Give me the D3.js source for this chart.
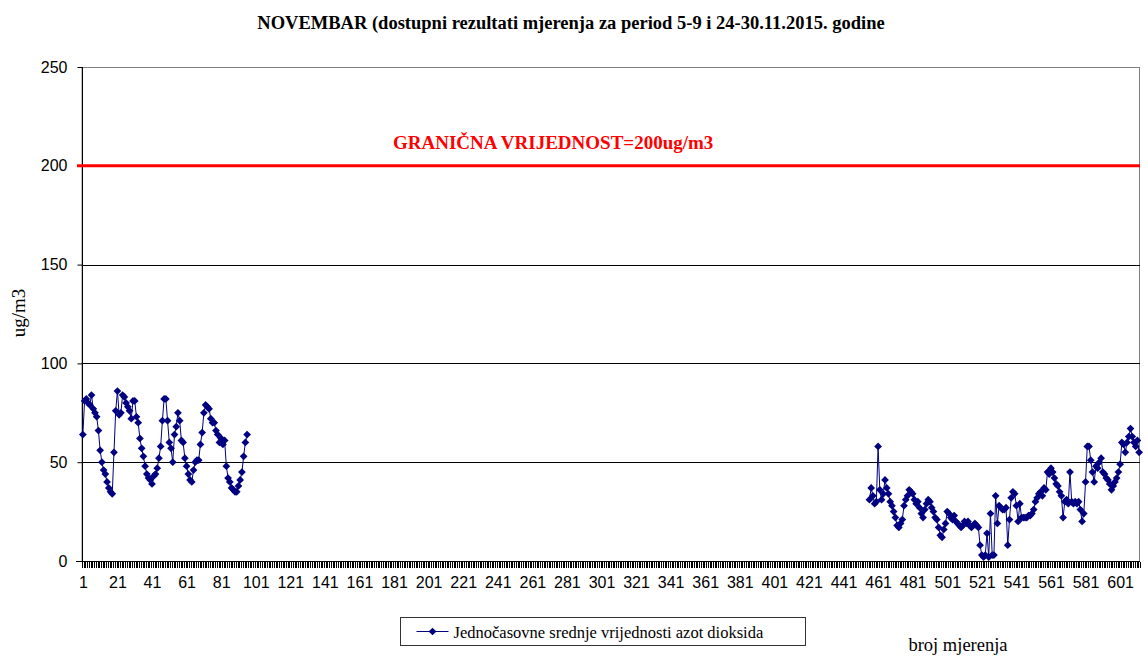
<!DOCTYPE html>
<html>
<head>
<meta charset="utf-8">
<script src="https://cdn.jsdelivr.net/npm/d3@7"></script>
<style>
  body { margin: 0; background: #fff; }
  svg { display: block; }
</style>
</head>
<body>
<svg id="chart"></svg>
<script>
var width = 1148, height = 657;
var margin = { top: 67, right: 8, bottom: 96, left: 82 };
var chart_width = width - margin.left - margin.right;
var chart_height = height - margin.top - margin.bottom;

// number of hourly measurements on the category axis
var categoryCount = 612;
// 5-9.11 block starts at measurement 1, 24-30.11 block at measurement 456
var startFirst = 1;
var startSecond = 456;
var valuesFirst = [
  64, 81, 82, 80, 79, 84, 77, 75, 73, 66,
  56, 50, 46, 44, 40, 37, 35, 34, 55, 76,
  86, 74, 75, 84, 83, 80, 78, 76, 72, 81,
  81, 73, 70, 62, 57, 53, 48, 44, 42, 41,
  39, 43, 44, 47, 52, 58, 71, 82, 82, 71,
  60, 57, 50, 64, 68, 75, 71, 61, 60, 52,
  48, 44, 41, 40, 46, 50, 51, 51, 59, 65,
  75, 79, 78, 77, 72, 70, 70, 66, 64, 60,
  62, 59, 61, 48, 42, 40, 37, 36, 35, 35,
  38, 41, 45, 53, 60, 64
];
var valuesSecond = [
  31, 37, 33, 29, 30, 58, 36, 31, 34, 41,
  37, 34, 30, 28, 25, 22, 18, 17, 19, 21,
  28, 31, 33, 36, 35, 34, 31, 29, 30, 27,
  24, 22, 26, 29, 31, 30, 27, 25, 22, 21,
  17, 13, 12, 16, 19, 25, 24, 22, 21, 23,
  20, 19, 18, 17, 18, 20, 19, 20, 18, 17,
  18, 19, 18, 17, 8, 3, 2, 3, 14, 2,
  24, 3, 3, 33, 19, 28, 27, 26, 26, 27,
  8, 21, 32, 35, 34, 28, 20, 29, 22, 22,
  22, 22, 23, 23, 24, 26, 30, 32, 34, 35,
  33, 37, 36, 45, 44, 47, 45, 42, 39, 38,
  35, 33, 22, 30, 31, 29, 45, 30, 29, 30,
  29, 30, 26, 20, 24, 40, 58, 58, 51, 45,
  40, 48, 47, 50, 52, 45, 44, 42, 41, 39,
  36, 38, 40, 42, 45, 49, 60, 59, 55, 60,
  63, 67, 63, 60, 58, 61, 55
];
var yTicks = [0, 50, 100, 150, 200, 250];
var xTickLabels = d3.range(1, categoryCount + 1, 20);
var limitValue = 200;

var titleText = "NOVEMBAR (dostupni rezultati mjerenja za period 5-9 i 24-30.11.2015. godine";
var limitText = "GRANIČNA VRIJEDNOST=200ug/m3";
var yLabel = "ug/m3";
var xLabel = "broj mjerenja";
var legendText = "Jednočasovne srednje vrijednosti azot dioksida";

// full series with gaps where no measurement exists
var data = d3.range(1, categoryCount + 1).map(function(i) {
  var v = null;
  if (i >= startFirst && i < startFirst + valuesFirst.length) v = valuesFirst[i - startFirst];
  if (i >= startSecond && i < startSecond + valuesSecond.length) v = valuesSecond[i - startSecond];
  return { i: i, v: v };
});

var xScale = d3.scaleLinear().domain([0.5, categoryCount + 0.5]).range([0, chart_width]);
var yScale = d3.scaleLinear().domain([0, 250]).range([chart_height, 0]);

var svg = d3.select("#chart").attr("width", width).attr("height", height);
var serif = "'Liberation Serif', 'Times New Roman', serif";
var sans = "'Liberation Sans', Arial, sans-serif";

svg.append("text")
  .attr("x", 571).attr("y", 29)
  .attr("text-anchor", "middle")
  .style("font-family", serif).style("font-weight", "bold").style("font-size", "18.5px")
  .text(titleText);

var g = svg.append("g").attr("transform", "translate(" + margin.left + "," + margin.top + ")");

// plot area border (top and right are grey)
g.append("rect")
  .attr("x", 0).attr("y", 0.5)
  .attr("width", chart_width - 0.5).attr("height", chart_height)
  .style("fill", "none").style("stroke", "#808080").style("stroke-width", 1);

// horizontal gridlines
g.selectAll(".grid")
  .data(yTicks.filter(function(d) { return d > 0 && d < 250; }))
  .enter().append("line")
  .attr("class", "grid")
  .attr("x1", 0).attr("x2", chart_width)
  .attr("y1", function(d) { return Math.round(yScale(d)) + 0.5; })
  .attr("y2", function(d) { return Math.round(yScale(d)) + 0.5; })
  .style("stroke", "#000").style("stroke-width", 1);

// y axis
var yAxis = d3.axisLeft(yScale).tickValues(yTicks).tickSize(5).tickPadding(10);
var gy = g.append("g").attr("transform", "translate(0.5,0)").call(yAxis);
gy.select(".domain").attr("d", "M0," + chart_height + "V0").style("stroke", "#000");
gy.selectAll(".tick line").style("stroke", "#000");
gy.selectAll(".tick text")
  .style("font-family", sans).style("font-size", "16px").style("fill", "#000");

// x axis: tick marks between every category
var boundaries = d3.range(0, categoryCount + 1).map(function(k) { return k + 0.5; });
var xAxisTicks = d3.axisBottom(xScale).tickValues(boundaries).tickSize(6).tickFormat("");
var gx = g.append("g").attr("transform", "translate(0," + (chart_height + 0.5) + ")").call(xAxisTicks);
gx.select(".domain").attr("d", "M-6,0H" + chart_width).style("stroke", "#000");
gx.selectAll(".tick line")
  .style("stroke", "#000").style("stroke-width", 1)
  .attr("shape-rendering", "crispEdges");

var xAxisLabels = d3.axisBottom(xScale).tickValues(xTickLabels).tickSize(0).tickPadding(16);
var gxl = g.append("g").attr("transform", "translate(0," + chart_height + ")").call(xAxisLabels);
gxl.select(".domain").remove();
gxl.selectAll(".tick text")
  .style("font-family", sans).style("font-size", "16px").style("fill", "#000");

// limit line
g.append("line")
  .attr("x1", -5).attr("x2", chart_width)
  .attr("y1", yScale(limitValue)).attr("y2", yScale(limitValue))
  .style("stroke", "#ff0000").style("stroke-width", 3);

g.append("text")
  .attr("x", 311).attr("y", yScale(limitValue) - 17)
  .style("font-family", serif).style("font-weight", "bold").style("font-size", "19px")
  .style("fill", "#ff0000")
  .text(limitText);

// series line
var line = d3.line()
  .defined(function(d) { return d.v !== null; })
  .x(function(d) { return xScale(d.i); })
  .y(function(d) { return yScale(d.v); });

g.append("path")
  .datum(data)
  .attr("d", line)
  .style("fill", "none").style("stroke", "#000080").style("stroke-width", 1);

var diamond = d3.symbol().type(d3.symbolSquare).size(30);
g.selectAll(".dot")
  .data(data.filter(function(d) { return d.v !== null; }))
  .enter().append("path")
  .attr("class", "dot")
  .attr("d", diamond)
  .attr("transform", function(d) { return "translate(" + xScale(d.i) + "," + yScale(d.v) + ") rotate(45)"; })
  .style("fill", "#000080");

// axis titles
svg.append("text")
  .attr("transform", "translate(25," + (margin.top + chart_height / 2 - 1) + ") rotate(-90)")
  .attr("text-anchor", "middle")
  .style("font-family", serif).style("font-size", "19px")
  .text(yLabel);

svg.append("text")
  .attr("x", 958).attr("y", 651)
  .attr("text-anchor", "middle")
  .style("font-family", serif).style("font-size", "18.5px")
  .text(xLabel);

// legend
var legend = svg.append("g").attr("transform", "translate(400.5,617.5)");
legend.append("rect")
  .attr("width", 405).attr("height", 28)
  .style("fill", "#fff").style("stroke", "#333").style("stroke-width", 1);
legend.append("line")
  .attr("x1", 16).attr("x2", 48).attr("y1", 14).attr("y2", 14)
  .style("stroke", "#000080").style("stroke-width", 1);
legend.append("path")
  .attr("d", diamond)
  .attr("transform", "translate(32,14) rotate(45)")
  .style("fill", "#000080");
legend.append("text")
  .attr("x", 53).attr("y", 20)
  .style("font-family", serif).style("font-size", "16.5px")
  .text(legendText);
</script>
</body>
</html>
